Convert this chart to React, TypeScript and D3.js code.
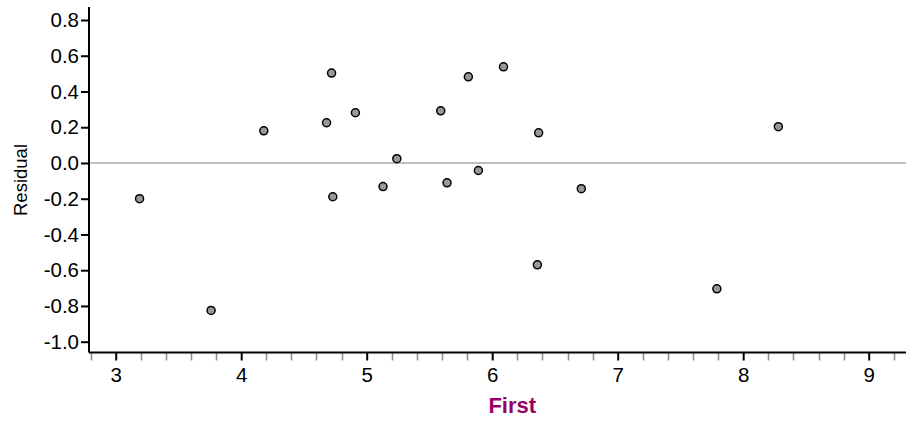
import React, { useRef, useEffect } from "react";
import * as d3 from "d3";

// residuals vs First
const firstValues = [3.19, 3.76, 4.18, 4.68, 4.72, 4.73, 4.91, 5.13, 5.24, 5.59, 5.64, 5.81, 5.89, 6.09, 6.36, 6.37, 6.71, 7.79, 8.28];
const residualValues = [-0.2, -0.825, 0.18, 0.225, 0.503, -0.189, 0.281, -0.132, 0.024, 0.292, -0.111, 0.482, -0.042, 0.538, -0.57, 0.169, -0.144, -0.704, 0.203];
const xTicks = [3, 4, 5, 6, 7, 8, 9];
const yTicks = [0.8, 0.6, 0.4, 0.2, 0.0, -0.2, -0.4, -0.6, -0.8, -1.0];

const width = 906;
const height = 421;
const left = 89;
const top = 7;
const bottom = 352.5;
const right = 906;

const App = () => {
  const svgRef = useRef(null);

  useEffect(() => {
    const svg = d3.select(svgRef.current);
    svg.selectAll("*").remove();

    const xScale = d3.scaleLinear().domain([3 - 26.7 / 125.5, 9 + 37.3 / 125.5]).range([left, right]);
    const yScale = d3.scaleLinear().domain([-1.0 - 10.8 / 178.7, 0.8 + 13 / 178.7]).range([bottom, top]);

    const font = "'Liberation Sans', Arial, sans-serif";

    // zero reference line
    svg.append("line")
      .attr("x1", left).attr("x2", right)
      .attr("y1", yScale(0)).attr("y2", yScale(0))
      .attr("stroke", "#a8a8a8").attr("stroke-width", 1.5);

    // minor x ticks
    const minor = d3.range(2.8, 9.31, 0.2).filter(v => Math.abs(v - Math.round(v)) > 0.01 && v > xScale.domain()[0]);
    svg.append("g").selectAll("line")
      .data(minor)
      .enter()
      .append("line")
      .attr("x1", d => Math.round(xScale(d)) + 0.5)
      .attr("x2", d => Math.round(xScale(d)) + 0.5)
      .attr("y1", bottom).attr("y2", bottom + 8)
      .attr("stroke", "#8a8a8a").attr("stroke-width", 1.5);

    // x axis
    const xAxis = d3.axisBottom(xScale).tickValues(xTicks).tickFormat(d3.format("d")).tickSize(8).tickPadding(7);
    const xAxisSvg = svg.append("g").attr("transform", `translate(0, ${bottom})`).call(xAxis);
    xAxisSvg.select(".domain").attr("stroke", "#000").attr("stroke-width", 2).attr("d", `M${left},0H${right}`);
    xAxisSvg.selectAll(".tick line").attr("stroke", "#000").attr("stroke-width", 2);
    xAxisSvg.selectAll(".tick text").style("font-family", font).style("font-size", "20.5px").attr("fill", "#000");

    // y axis
    const yAxis = d3.axisLeft(yScale).tickValues(yTicks).tickFormat(d3.format(".1f")).tickSize(8).tickPadding(2);
    const yAxisSvg = svg.append("g").attr("transform", `translate(${left}, 0)`).call(yAxis);
    yAxisSvg.select(".domain").attr("stroke", "#000").attr("stroke-width", 2).attr("d", `M0,${top}V${bottom}`);
    yAxisSvg.selectAll(".tick line").attr("stroke", "#000").attr("stroke-width", 2);
    yAxisSvg.selectAll(".tick text").style("font-family", font).style("font-size", "20.5px").attr("fill", "#000")
      .text(d => d3.format(".1f")(d).replace("−", "-"));

    // points
    svg.append("g").selectAll("circle")
      .data(firstValues)
      .enter()
      .append("circle")
      .attr("cx", (d) => xScale(d))
      .attr("cy", (_, i) => yScale(residualValues[i]))
      .attr("r", 4)
      .attr("fill", "#999999")
      .attr("stroke", "#000")
      .attr("stroke-width", 1.5);

    // axis titles
    svg.append("text")
      .attr("x", xScale(6.16))
      .attr("y", 412.5)
      .attr("text-anchor", "middle")
      .attr("font-family", font)
      .attr("font-size", 22)
      .attr("font-weight", "bold")
      .attr("fill", "#990066")
      .text("First");

    svg.append("text")
      .attr("transform", `translate(26.5, 180) rotate(-90)`)
      .attr("text-anchor", "middle")
      .attr("font-family", font)
      .attr("font-size", 18.5)
      .attr("fill", "#000")
      .text("Residual");
  }, []);

  return (
    <div>
      <svg ref={svgRef} width={width} height={height} style={{ position: "absolute", left: 0, top: 0, background: "#fff" }}>
      </svg>
    </div>
  );
};

export default App;
